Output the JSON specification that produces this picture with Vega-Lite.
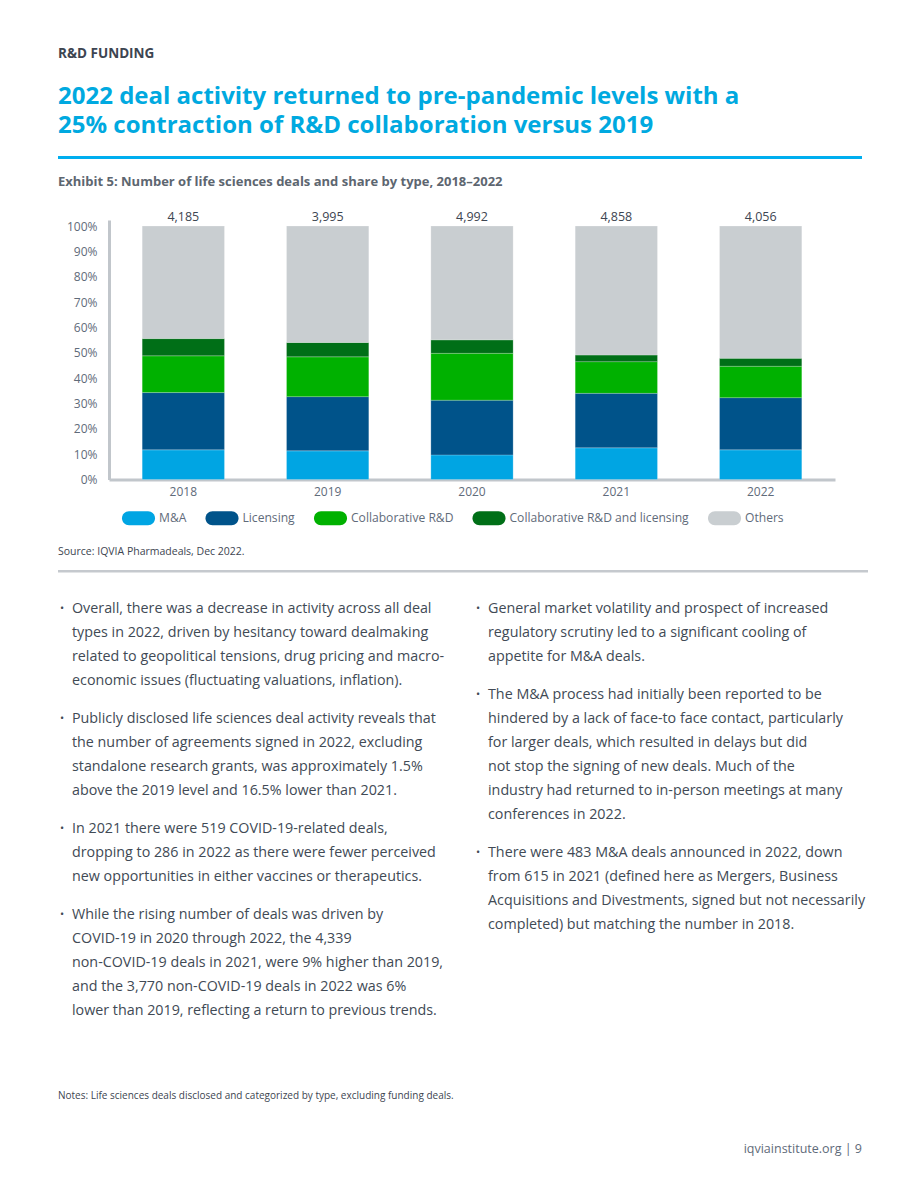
{
  "$schema": "https://vega.github.io/schema/vega-lite/v6.json",
  "background": "white",
  "padding": {"left": 58, "top": 47, "right": 0, "bottom": 0},
  "title": {
    "text": "R&D FUNDING",
    "subtitle": ["2022 deal activity returned to pre-pandemic levels with a", "25% contraction of R&D collaboration versus 2019"],
    "anchor": "start",
    "frame": "group",
    "font": "Open Sans",
    "fontSize": 13.5,
    "fontWeight": "bold",
    "color": "#3d4551",
    "subtitleFont": "Open Sans",
    "subtitleFontSize": 24,
    "subtitleFontWeight": "bold",
    "subtitleColor": "#00A9E0",
    "subtitleLineHeight": 29.3,
    "subtitlePadding": 24,
    "offset": 18
  },
  "spacing": 0,
  "bounds": "flush",
  "resolve": {"scale": {"color": "independent"}, "legend": {"color": "independent"}},
  "vconcat": [
    {"width": 804, "height": 3, "data": {"values": []}, "mark": "text", "view": {"fill": "#00AEEF", "stroke": null}},
    {"width": 10, "height": 60.3, "data": {"values": []}, "mark": "text"},
    {
      "title": {"text": "Exhibit 5: Number of life sciences deals and share by type, 2018–2022", "anchor": "start", "frame": "group", "font": "Open Sans", "fontSize": 13, "fontWeight": "bold", "color": "#5d6670", "baseline": "alphabetic", "offset": 12},
      "width": 777,
      "height": 259.5,
      "layer": [
        {
          "data": {"values": [
            {"year": "2018", "type": "M&A", "share": 11.7},
            {"year": "2018", "type": "Licensing", "share": 22.6},
            {"year": "2018", "type": "Collaborative R&D", "share": 14.5},
            {"year": "2018", "type": "Collaborative R&D and licensing", "share": 6.8},
            {"year": "2018", "type": "Others", "share": 44.4},
            {"year": "2019", "type": "M&A", "share": 11.3},
            {"year": "2019", "type": "Licensing", "share": 21.4},
            {"year": "2019", "type": "Collaborative R&D", "share": 15.7},
            {"year": "2019", "type": "Collaborative R&D and licensing", "share": 5.7},
            {"year": "2019", "type": "Others", "share": 45.9},
            {"year": "2020", "type": "M&A", "share": 9.7},
            {"year": "2020", "type": "Licensing", "share": 21.6},
            {"year": "2020", "type": "Collaborative R&D", "share": 18.5},
            {"year": "2020", "type": "Collaborative R&D and licensing", "share": 5.3},
            {"year": "2020", "type": "Others", "share": 44.9},
            {"year": "2021", "type": "M&A", "share": 12.5},
            {"year": "2021", "type": "Licensing", "share": 21.5},
            {"year": "2021", "type": "Collaborative R&D", "share": 12.5},
            {"year": "2021", "type": "Collaborative R&D and licensing", "share": 2.6},
            {"year": "2021", "type": "Others", "share": 50.9},
            {"year": "2022", "type": "M&A", "share": 11.7},
            {"year": "2022", "type": "Licensing", "share": 20.6},
            {"year": "2022", "type": "Collaborative R&D", "share": 12.4},
            {"year": "2022", "type": "Collaborative R&D and licensing", "share": 3.1},
            {"year": "2022", "type": "Others", "share": 52.2}
          ]},
          "mark": {"type": "bar", "stroke": "#ffffff", "strokeWidth": 0.6, "strokeOpacity": 0.35},
          "encoding": {
            "x": {"field": "year", "type": "ordinal", "scale": {"range": [51, 777], "paddingInner": 0.43, "paddingOuter": 0.23},
              "axis": {"title": null, "labelAngle": 0, "ticks": false, "domainColor": "#c1c6cb", "domainWidth": 3, "labelPadding": 7, "labelFontSize": 12, "labelColor": "#5f6b7a", "labelFont": "Open Sans"}},
            "y": {"field": "share", "type": "quantitative", "stack": "zero", "scale": {"domain": [0, 102.4], "nice": false},
              "axis": {"title": null, "offset": -51, "values": [0, 10, 20, 30, 40, 50, 60, 70, 80, 90, 100], "labelExpr": "datum.value + '%'", "labelOverlap": false, "ticks": false, "grid": false, "domainColor": "#c1c6cb", "domainWidth": 3, "labelPadding": 12, "labelFontSize": 12, "labelColor": "#5f6b7a", "labelFont": "Open Sans"}},
            "color": {"field": "type", "type": "nominal",
              "scale": {"domain": ["M&A", "Licensing", "Collaborative R&D", "Collaborative R&D and licensing", "Others"], "range": ["#00A5E3", "#00538A", "#00B100", "#006F17", "#C9CED1"]},
              "legend": {"orient": "none", "legendX": 64, "legendY": 281.5, "direction": "horizontal", "title": null,
                "symbolType": "M-0.576,-0.424L0.576,-0.424A0.424,0.424,0,0,1,0.576,0.424L-0.576,0.424A0.424,0.424,0,0,1,-0.576,-0.424Z",
                "symbolSize": 1089, "symbolStrokeWidth": 0, "symbolOpacity": 1, "labelFontSize": 12.1, "labelColor": "#5f6b7a", "labelFont": "Open Sans", "labelOffset": 4, "labelLimit": 400, "columnPadding": 18.5, "padding": 0}},
            "order": {"field": "year"}
          }
        },
        {
          "data": {"values": [
            {"year": "2018", "total": 4185},
            {"year": "2019", "total": 3995},
            {"year": "2020", "total": 4992},
            {"year": "2021", "total": 4858},
            {"year": "2022", "total": 4056}
          ]},
          "mark": {"type": "text", "baseline": "alphabetic", "dy": -5, "fontSize": 12.5, "color": "#3d4551", "font": "Open Sans"},
          "encoding": {
            "x": {"field": "year", "type": "ordinal"},
            "y": {"datum": 100, "type": "quantitative",
              "axis": {"title": null, "offset": -51, "values": [0, 10, 20, 30, 40, 50, 60, 70, 80, 90, 100], "labelExpr": "datum.value + '%'", "labelOverlap": false, "ticks": false, "grid": false, "domainColor": "#c1c6cb", "domainWidth": 3, "labelPadding": 12, "labelFontSize": 12, "labelColor": "#5f6b7a", "labelFont": "Open Sans"}},
            "text": {"field": "total", "type": "quantitative", "format": ","}
          }
        }
      ]
    },
    {"width": 10, "height": 89.8, "data": {"values": []}, "mark": "text"},
    {"width": 810, "height": 2.5, "data": {"values": []}, "mark": "text", "view": {"fill": "#c5c9ce", "stroke": null},
      "title": {"text": "Source: IQVIA Pharmadeals, Dec 2022.", "anchor": "start", "font": "Open Sans", "fontSize": 10.5, "fontWeight": "normal", "color": "#3d4551", "baseline": "alphabetic", "offset": 5}},
    {"width": 10, "height": 23.2, "data": {"values": []}, "mark": "text"},
    {
      "width": 804,
      "height": 426,
      "layer": [
        {"data": {"values": [{"text": "Overall, there was a decrease in activity across all deal\ntypes in 2022, driven by hesitancy toward dealmaking\nrelated to geopolitical tensions, drug pricing and macro-\neconomic issues (fluctuating valuations, inflation)."}]},
          "mark": {"type": "text", "x": 14, "y": 0, "baseline": "line-top", "lineHeight": 24, "lineBreak": "\n", "align": "left", "fontSize": 14.3, "color": "#414a55", "font": "Open Sans"}, "encoding": {"text": {"field": "text"}}},
        {"data": {"values": [{"text": "Publicly disclosed life sciences deal activity reveals that\nthe number of agreements signed in 2022, excluding\nstandalone research grants, was approximately 1.5%\nabove the 2019 level and 16.5% lower than 2021."}]},
          "mark": {"type": "text", "x": 14, "y": 110, "baseline": "line-top", "lineHeight": 24, "lineBreak": "\n", "align": "left", "fontSize": 14.3, "color": "#414a55", "font": "Open Sans"}, "encoding": {"text": {"field": "text"}}},
        {"data": {"values": [{"text": "In 2021 there were 519 COVID-19-related deals,\ndropping to 286 in 2022 as there were fewer perceived\nnew opportunities in either vaccines or therapeutics."}]},
          "mark": {"type": "text", "x": 14, "y": 220, "baseline": "line-top", "lineHeight": 24, "lineBreak": "\n", "align": "left", "fontSize": 14.3, "color": "#414a55", "font": "Open Sans"}, "encoding": {"text": {"field": "text"}}},
        {"data": {"values": [{"text": "While the rising number of deals was driven by\nCOVID-19 in 2020 through 2022, the 4,339\nnon-COVID-19 deals in 2021, were 9% higher than 2019,\nand the 3,770 non-COVID-19 deals in 2022 was 6%\nlower than 2019, reflecting a return to previous trends."}]},
          "mark": {"type": "text", "x": 14, "y": 306, "baseline": "line-top", "lineHeight": 24, "lineBreak": "\n", "align": "left", "fontSize": 14.3, "color": "#414a55", "font": "Open Sans"}, "encoding": {"text": {"field": "text"}}},
        {"data": {"values": [{"text": "General market volatility and prospect of increased\nregulatory scrutiny led to a significant cooling of\nappetite for M&A deals."}]},
          "mark": {"type": "text", "x": 430, "y": 0, "baseline": "line-top", "lineHeight": 24, "lineBreak": "\n", "align": "left", "fontSize": 14.3, "color": "#414a55", "font": "Open Sans"}, "encoding": {"text": {"field": "text"}}},
        {"data": {"values": [{"text": "The M&A process had initially been reported to be\nhindered by a lack of face-to face contact, particularly\nfor larger deals, which resulted in delays but did\nnot stop the signing of new deals. Much of the\nindustry had returned to in-person meetings at many\nconferences in 2022."}]},
          "mark": {"type": "text", "x": 430, "y": 86, "baseline": "line-top", "lineHeight": 24, "lineBreak": "\n", "align": "left", "fontSize": 14.3, "color": "#414a55", "font": "Open Sans"}, "encoding": {"text": {"field": "text"}}},
        {"data": {"values": [{"text": "There were 483 M&A deals announced in 2022, down\nfrom 615 in 2021 (defined here as Mergers, Business\nAcquisitions and Divestments, signed but not necessarily\ncompleted) but matching the number in 2018."}]},
          "mark": {"type": "text", "x": 430, "y": 244, "baseline": "line-top", "lineHeight": 24, "lineBreak": "\n", "align": "left", "fontSize": 14.3, "color": "#414a55", "font": "Open Sans"}, "encoding": {"text": {"field": "text"}}},
        {"data": {"values": [{"bullet": "•"}]}, "mark": {"type": "text", "x": 2, "y": 0, "baseline": "line-top", "lineHeight": 24, "align": "left", "fontSize": 11, "color": "#414a55", "font": "Open Sans"}, "encoding": {"text": {"field": "bullet"}}},
        {"data": {"values": [{"bullet": "•"}]}, "mark": {"type": "text", "x": 2, "y": 110, "baseline": "line-top", "lineHeight": 24, "align": "left", "fontSize": 11, "color": "#414a55", "font": "Open Sans"}, "encoding": {"text": {"field": "bullet"}}},
        {"data": {"values": [{"bullet": "•"}]}, "mark": {"type": "text", "x": 2, "y": 220, "baseline": "line-top", "lineHeight": 24, "align": "left", "fontSize": 11, "color": "#414a55", "font": "Open Sans"}, "encoding": {"text": {"field": "bullet"}}},
        {"data": {"values": [{"bullet": "•"}]}, "mark": {"type": "text", "x": 2, "y": 306, "baseline": "line-top", "lineHeight": 24, "align": "left", "fontSize": 11, "color": "#414a55", "font": "Open Sans"}, "encoding": {"text": {"field": "bullet"}}},
        {"data": {"values": [{"bullet": "•"}]}, "mark": {"type": "text", "x": 418, "y": 0, "baseline": "line-top", "lineHeight": 24, "align": "left", "fontSize": 11, "color": "#414a55", "font": "Open Sans"}, "encoding": {"text": {"field": "bullet"}}},
        {"data": {"values": [{"bullet": "•"}]}, "mark": {"type": "text", "x": 418, "y": 86, "baseline": "line-top", "lineHeight": 24, "align": "left", "fontSize": 11, "color": "#414a55", "font": "Open Sans"}, "encoding": {"text": {"field": "bullet"}}},
        {"data": {"values": [{"bullet": "•"}]}, "mark": {"type": "text", "x": 418, "y": 244, "baseline": "line-top", "lineHeight": 24, "align": "left", "fontSize": 11, "color": "#414a55", "font": "Open Sans"}, "encoding": {"text": {"field": "bullet"}}}
      ]
    },
    {"width": 10, "height": 61, "data": {"values": []}, "mark": "text"},
    {"width": 804, "height": 24, "data": {"values": [{"text": "Notes: Life sciences deals disclosed and categorized by type, excluding funding deals."}]},
      "mark": {"type": "text", "x": 0, "align": "left", "baseline": "middle", "fontSize": 10, "color": "#3d4551", "font": "Open Sans"}, "encoding": {"text": {"field": "text"}}},
    {"width": 10, "height": 29, "data": {"values": []}, "mark": "text"},
    {"width": 804, "height": 24, "data": {"values": [{"text": "iqviainstitute.org  |  9"}]},
      "mark": {"type": "text", "x": 804, "align": "right", "baseline": "middle", "fontSize": 12.5, "color": "#5f6b7a", "font": "Open Sans"}, "encoding": {"text": {"field": "text"}}}
  ],
  "config": {
    "view": {"stroke": null},
    "font": "Open Sans"
  }
}
